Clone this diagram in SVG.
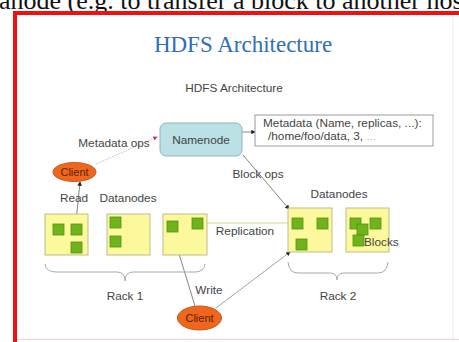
<svg xmlns="http://www.w3.org/2000/svg" width="459" height="342" viewBox="0 0 459 342">
  <defs>
    <style>
      .lbl { font-family: "Liberation Sans", Arial, sans-serif; font-size: 11.8px; fill: #444; }
      .dn { fill: #fbf99c; stroke: #bdbb8c; stroke-width: 1; }
      .blk { fill: #6fb41c; stroke: #5d8f16; stroke-width: 0.8; }
      .cl { fill: #f0661c; stroke: #c8551a; stroke-width: 1; }
      .cltxt { font-family: "Liberation Sans", Arial, sans-serif; font-size: 11px; fill: #5a2200; text-anchor: middle; }
      .conn { fill: none; stroke: #777; stroke-width: 0.9; }
      .brace { fill: none; stroke: #aaa; stroke-width: 1; }
    </style>
    <marker id="ah" viewBox="0 0 6 6" refX="5" refY="3" markerWidth="5" markerHeight="5" orient="auto">
      <path d="M0,0 L6,3 L0,6 z" fill="#222"/>
    </marker>
    <marker id="ahm" viewBox="0 0 6 6" refX="5" refY="3" markerWidth="5" markerHeight="5" orient="auto">
      <path d="M0,0 L6,3 L0,6 z" fill="#c0309a"/>
    </marker>
  </defs>

  <rect width="459" height="342" fill="#ffffff"/>
  <text x="-1" y="8.5" font-family="Liberation Serif, Times New Roman, serif" font-size="26" fill="#111">anode (e.g. to transfer a block to another hos</text>

  <g id="frame">
    <rect x="17" y="15" width="436" height="324" fill="#ffffff" stroke="#ecebf2" stroke-width="1"/>
    <rect x="13" y="11" width="446" height="4" fill="#ee1111"/>
    <rect x="13" y="11" width="4" height="331" fill="#ee1111"/>
    <line x1="17" y1="339.5" x2="459" y2="339.5" stroke="#f4d4d8" stroke-width="1"/>
  </g>

  <g id="title">
    <text x="243" y="52" text-anchor="middle" font-family="Liberation Serif, Times New Roman, serif" font-size="23" fill="#2f6fb8">HDFS Architecture</text>
    <text x="234" y="92" text-anchor="middle" class="lbl" font-size="11.5" fill="#333">HDFS Architecture</text>
  </g>

  <g id="connectors">
    <line x1="96" y1="164" x2="157" y2="137" stroke="#bbb" stroke-width="0.9" stroke-dasharray="1.5,1" marker-end="url(#ahm)"/>
    <line x1="242" y1="132" x2="255" y2="132" class="conn" marker-end="url(#ah)"/>
    <line x1="243" y1="155" x2="289" y2="209" class="conn" marker-end="url(#ah)"/>
    <line x1="76" y1="222" x2="80" y2="182" class="conn" marker-end="url(#ah)"/>
    <line x1="203" y1="223" x2="292" y2="223" stroke="#cfd98e" stroke-width="1.2"/>
    <line x1="195" y1="306" x2="172" y2="231" class="conn" marker-end="url(#ah)"/>
    <line x1="216" y1="308" x2="290" y2="252" stroke="#999" stroke-width="0.9" marker-end="url(#ah)"/>
    <path class="brace" d="M45,264 Q46,272 56,272 L117,272 Q125,272 125,281 Q125,272 133,272 L195,272 Q204,272 205,264"/>
    <path class="brace" d="M288,262 Q289,273 298,273 L330,273 Q337,273 337,280 Q337,273 344,273 L378,273 Q387,273 388,262"/>
  </g>

  <g id="namenode">
    <rect x="160" y="123" width="82" height="33" rx="6" fill="#bbe0e6" stroke="#8fb5bd" stroke-width="1"/>
    <text x="201" y="144" text-anchor="middle" class="lbl" fill="#333">Namenode</text>
  </g>

  <g id="metadata">
    <rect x="255" y="115" width="178" height="31" fill="#ffffff" stroke="#9a9a9a" stroke-width="1"/>
    <text x="263" y="127" class="lbl" fill="#333">Metadata (Name, replicas, ...):</text>
    <text x="268" y="140" class="lbl" fill="#333">/home/foo/data, 3, <tspan fill="#bbb">...</tspan></text>
  </g>

  <g id="client-top">
    <ellipse cx="74.5" cy="172" rx="21.5" ry="9.5" class="cl"/>
    <text x="74.5" y="176" class="cltxt">Client</text>
  </g>

  <g id="client-bottom">
    <ellipse cx="199.5" cy="318" rx="22" ry="12" class="cl"/>
    <text x="199.5" y="322" class="cltxt">Client</text>
  </g>

  <g id="labels">
    <text x="114" y="147" text-anchor="middle" class="lbl">Metadata ops</text>
    <text x="258" y="178" text-anchor="middle" class="lbl">Block ops</text>
    <text x="74" y="202" text-anchor="middle" class="lbl">Read</text>
    <text x="128" y="202" text-anchor="middle" class="lbl">Datanodes</text>
    <text x="339" y="198" text-anchor="middle" class="lbl">Datanodes</text>
    <text x="245" y="235" text-anchor="middle" class="lbl">Replication</text>
    <text x="209" y="294" text-anchor="middle" class="lbl">Write</text>
    <text x="125" y="300" text-anchor="middle" class="lbl">Rack 1</text>
    <text x="338" y="300" text-anchor="middle" class="lbl">Rack 2</text>
  </g>

  <g id="rack1-dn1">
    <rect x="45" y="214" width="43" height="41" class="dn"/>
    <rect x="53" y="224" width="11" height="11" class="blk"/>
    <rect x="71" y="224" width="11" height="11" class="blk"/>
    <rect x="71" y="242" width="11" height="11" class="blk"/>
  </g>
  <g id="rack1-dn2">
    <rect x="107" y="214" width="43" height="41" class="dn"/>
    <rect x="110" y="217" width="11" height="11" class="blk"/>
    <rect x="110" y="236" width="11" height="11" class="blk"/>
  </g>
  <g id="rack1-dn3">
    <rect x="163" y="214" width="44" height="41" class="dn"/>
    <rect x="167" y="221" width="11" height="11" class="blk"/>
    <rect x="192" y="218" width="11" height="11" class="blk"/>
  </g>
  <g id="rack2-dn1">
    <rect x="288" y="208" width="44" height="44" class="dn"/>
    <rect x="292" y="218" width="11" height="11" class="blk"/>
    <rect x="317" y="218" width="11" height="11" class="blk"/>
    <rect x="296" y="239" width="11" height="11" class="blk"/>
  </g>
  <g id="rack2-dn2">
    <rect x="346" y="208" width="43" height="44" class="dn"/>
    <rect x="350" y="218" width="11" height="11" class="blk"/>
    <rect x="370" y="218" width="11" height="11" class="blk"/>
    <rect x="357" y="224" width="11" height="11" class="blk"/>
    <rect x="353" y="235" width="11" height="11" class="blk"/>
    <text x="364" y="246" class="lbl" font-size="11" fill="#222">Blocks</text>
  </g>
</svg>
